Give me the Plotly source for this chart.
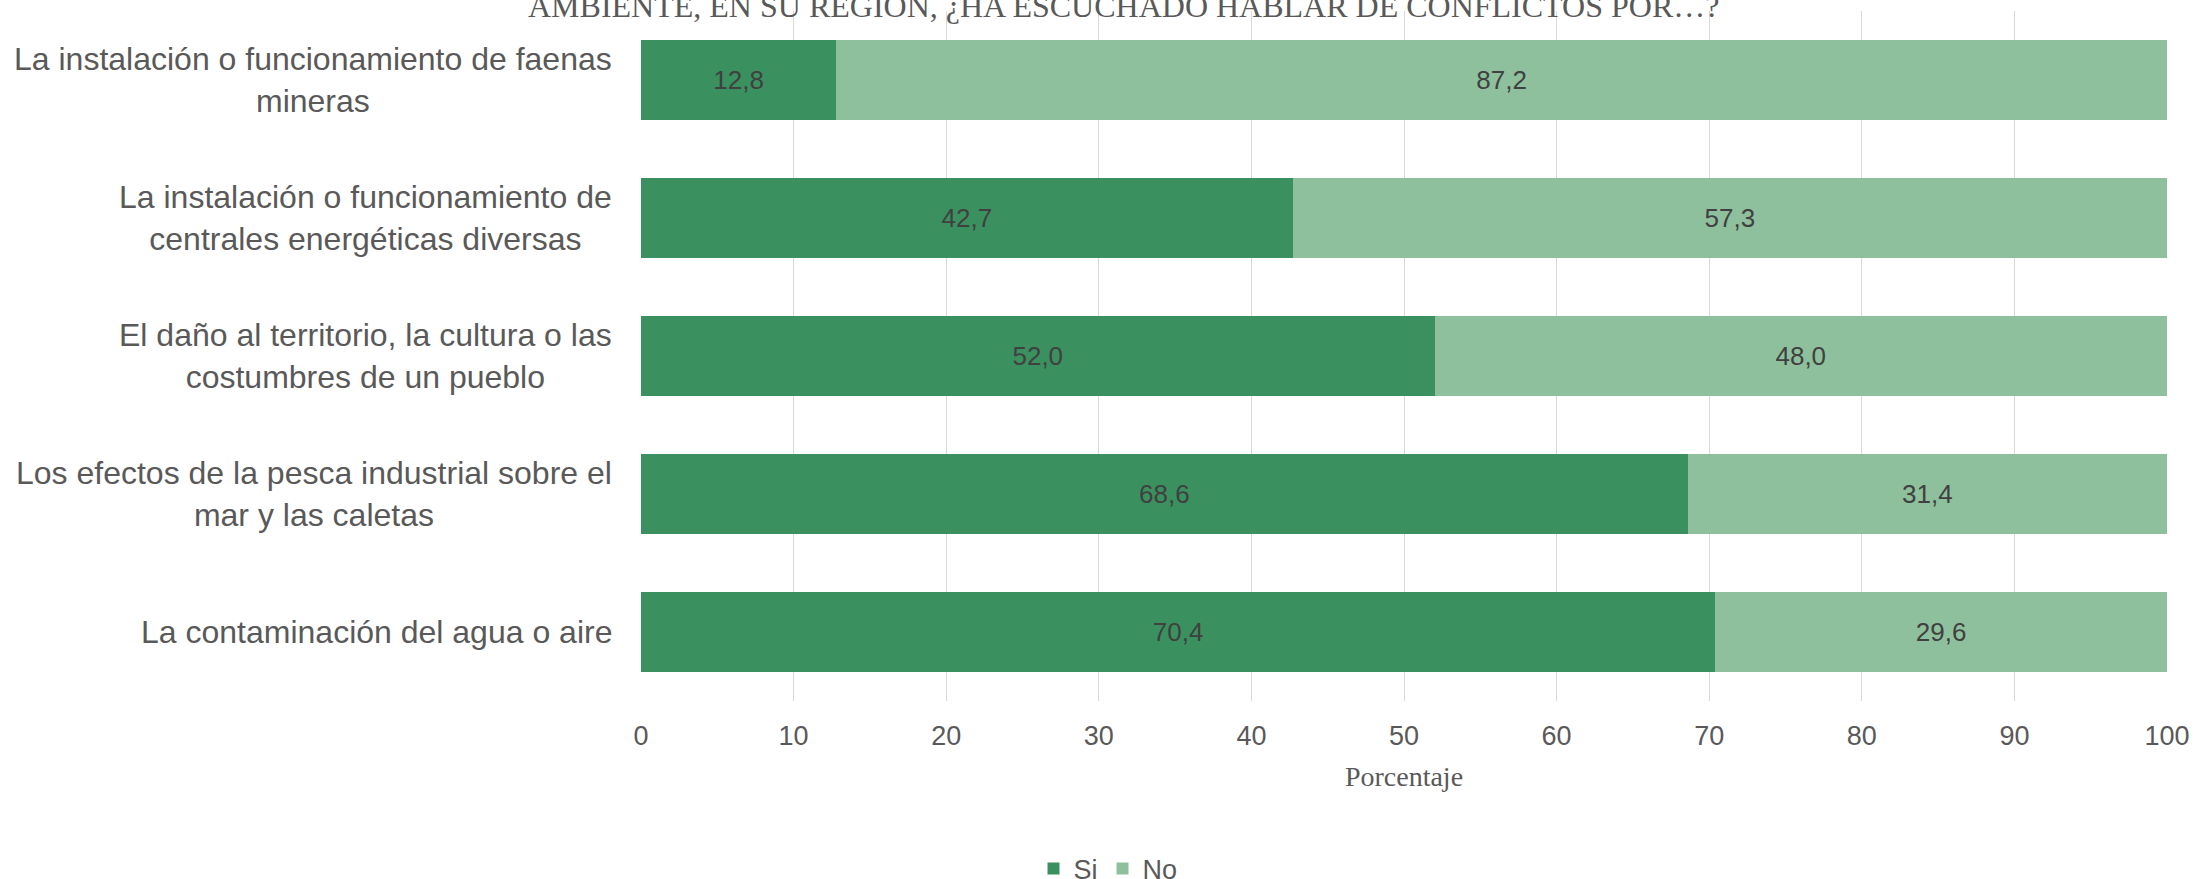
import plotly.graph_objects as go

categories = [
    "La instalación o funcionamiento de faenas<br>mineras",
    "La instalación o funcionamiento de<br>centrales energéticas diversas",
    "El daño al territorio, la cultura o las<br>costumbres de un pueblo",
    "Los efectos de la pesca industrial sobre el<br>mar y las caletas",
    "La contaminación del agua o aire",
]
si_values = [12.8, 42.7, 52.0, 68.6, 70.4]
no_values = [87.2, 57.3, 48.0, 31.4, 29.6]
tick_values = [0, 10, 20, 30, 40, 50, 60, 70, 80, 90, 100]

title_text = "AMBIENTE, EN SU REGION, ¿HA ESCUCHADO HABLAR DE CONFLICTOS POR…?"
x_title = "Porcentaje"

W, H = 2195, 879
L, R, T, B = 641, 28, 11, 178
PW, PH = W - L - R, H - T - B

SANS = "Liberation Sans, Arial, sans-serif"
SERIF = "Liberation Serif, Times New Roman, serif"

fig = go.Figure()
fig.add_trace(go.Bar(
    y=categories, x=si_values, name="Si", orientation="h",
    marker=dict(color="#3A915F", line=dict(width=0)),
    texttemplate="%{x:.1f}", textposition="inside", insidetextanchor="middle",
    textangle=0, constraintext="none",
    textfont=dict(family=SANS, size=26, color="#404040"),
))
fig.add_trace(go.Bar(
    y=categories, x=no_values, name="No", orientation="h",
    marker=dict(color="#8FC09D", line=dict(width=0)),
    texttemplate="%{x:.1f}", textposition="inside", insidetextanchor="middle",
    textangle=0, constraintext="none",
    textfont=dict(family=SANS, size=26, color="#404040"),
))

annotations = [dict(
    text=title_text, xref="paper", yref="paper",
    x=(1123 - L) / PW, y=(T + PH - 26) / PH, xanchor="center", yanchor="bottom",
    showarrow=False, font=dict(family=SERIF, size=32, color="#595959"),
)]
for cat in categories:
    annotations.append(dict(
        text=cat, xref="paper", yref="y", x=(614 - L) / PW, y=cat,
        xanchor="right", yanchor="middle", align="center", showarrow=False,
        font=dict(family=SANS, size=32, color="#595959"),
    ))

fig.update_layout(
    width=W, height=H,
    margin=dict(l=L, r=R, t=T, b=B, pad=0, autoexpand=False),
    barmode="stack", bargap=0.415,
    separators=", ",
    paper_bgcolor="white", plot_bgcolor="white",
    font=dict(family=SANS, color="#595959"),
    showlegend=True,
    legend=dict(
        orientation="h", xref="container", yref="container",
        x=1108 / W, xanchor="center",
        y=1 - 869 / H, yanchor="middle",
        font=dict(family=SANS, size=27, color="#595959"),
        itemwidth=30, traceorder="normal",
        bgcolor="rgba(0,0,0,0)",
    ),
    xaxis=dict(
        range=[0, 100], tickvals=tick_values, showgrid=True,
        gridcolor="#D9D9D9", gridwidth=1, zeroline=False,
        showline=False, ticks="", automargin=False, ticklabelstandoff=16,
        tickfont=dict(family=SANS, size=27, color="#595959"),
        title=dict(text=x_title, font=dict(family=SERIF, size=28, color="#595959"), standoff=16),
    ),
    yaxis=dict(
        autorange="reversed", showgrid=False, zeroline=False, showline=False,
        ticks="", showticklabels=False, automargin=False,
    ),
    annotations=annotations,
)

fig.write_html(
    "out.html",
    config={"displayModeBar": False},
    post_script="document.body.style.margin='0';document.body.style.overflow='hidden';",
)
